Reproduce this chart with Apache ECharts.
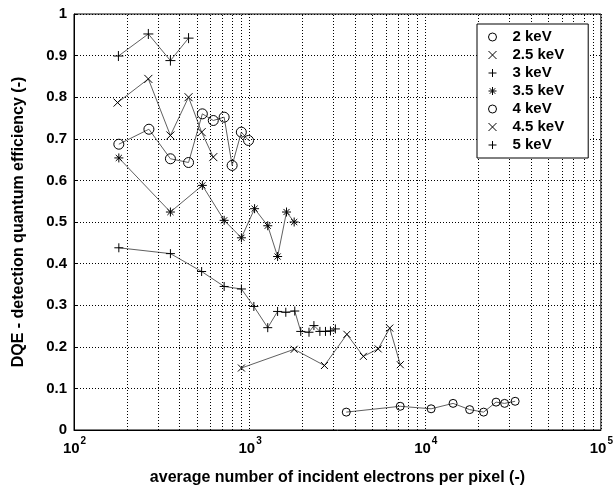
<!DOCTYPE html>
<html>
<head>
<meta charset="utf-8">
<script src="https://cdn.jsdelivr.net/npm/echarts@6/dist/echarts.min.js"></script>
<style>html,body{margin:0;padding:0;background:#fff}#c{width:616px;height:491px}</style>
</head>
<body>
<div id="c"></div>
<script>
// ---- data ----
const seriesNames = ['2 keV', '2.5 keV', '3 keV', '3.5 keV', '4 keV', '4.5 keV', '5 keV'];

const e2_x  = [3550, 7200, 10800, 14400, 17900, 21500, 25300, 28300, 32500];
const e2_y  = [0.043, 0.057, 0.051, 0.064, 0.049, 0.043, 0.067, 0.064, 0.069];

const e25_x = [898, 1793, 2667, 3580, 4443, 5395, 6281, 7210];
const e25_y = [0.149, 0.194, 0.155, 0.230, 0.177, 0.195, 0.245, 0.157];

const e3_x  = [180, 354, 533, 716, 898, 1057, 1268, 1443, 1607, 1807, 1955, 2178, 2323, 2512, 2703, 2885, 3078];
const e3_y  = [0.438, 0.424, 0.381, 0.345, 0.339, 0.297, 0.246, 0.285, 0.283, 0.286, 0.237, 0.235, 0.251, 0.237, 0.237, 0.238, 0.243];

const e35_x = [180, 354, 538, 716, 898, 1067, 1268, 1443, 1622, 1793];
const e35_y = [0.654, 0.524, 0.588, 0.504, 0.462, 0.532, 0.491, 0.417, 0.524, 0.500];

const e4_x  = [180, 267, 354, 449, 538, 621, 716, 795, 897, 986];
const e4_y  = [0.687, 0.723, 0.652, 0.643, 0.760, 0.744, 0.752, 0.636, 0.716, 0.696];

const e45_x = [177, 265, 354, 449, 533, 621];
const e45_y = [0.787, 0.844, 0.708, 0.800, 0.716, 0.656];

const e5_x  = [179, 265, 354, 449];
const e5_y  = [0.899, 0.952, 0.888, 0.942];

const xTicks = [100, 1000, 10000, 100000];
const minorGrid = [200,300,400,500,600,700,800,900,2000,3000,4000,5000,6000,7000,8000,9000,20000,30000,40000,50000,60000,70000,80000,90000];

// ---- styling ----
const FONT = "'Liberation Sans', Arial, sans-serif";
const SYM = {
  o: 'circle',
  x: 'path://M0,0L10,10M0,10L10,0',
  p: 'path://M5,0L5,10M0,5L10,5',
  s: 'path://M5,0L5,10M0,5L10,5M1.6,1.6L8.4,8.4M1.6,8.4L8.4,1.6'
};
const defs = [
  {x: e2_x,  y: e2_y,  sym: SYM.o, size: 8},
  {x: e25_x, y: e25_y, sym: SYM.x, size: 7},
  {x: e3_x,  y: e3_y,  sym: SYM.p, size: 9},
  {x: e35_x, y: e35_y, sym: SYM.s, size: 9},
  {x: e4_x,  y: e4_y,  sym: SYM.o, size: 10},
  {x: e45_x, y: e45_y, sym: SYM.x, size: 8},
  {x: e5_x,  y: e5_y,  sym: SYM.p, size: 10}
];

const series = defs.map((d, i) => ({
  name: seriesNames[i],
  type: 'line',
  data: d.x.map((v, k) => [v, d.y[k]]),
  symbol: d.sym,
  symbolSize: d.size,
  symbolKeepAspect: true,
  showSymbol: true,
  lineStyle: {color: '#606060', width: 1},
  itemStyle: {color: 'transparent', borderColor: '#000', borderWidth: 1},
  emphasis: {disabled: true},
  z: 3
}));

series.push({
  name: 'grid-minor',
  type: 'line',
  data: [],
  silent: true,
  z: 1,
  markLine: {
    silent: true,
    symbol: 'none',
    label: {show: false},
    lineStyle: {color: '#000', type: [1, 2], width: 1},
    emphasis: {disabled: true},
    data: minorGrid.map(v => ({xAxis: v}))
  }
});

const chart = echarts.init(document.getElementById('c'), null, {renderer: 'canvas'});
chart.setOption({
  animation: false,
  backgroundColor: '#fff',
  textStyle: {fontFamily: FONT},
  grid: {left: 74, right: 9, top: 14, bottom: 59, show: true, borderColor: '#000', borderWidth: 1, backgroundColor: 'transparent'},
  legend: {
    show: true,
    data: seriesNames.map((n, i) => ({name: n, icon: defs[i].sym})),
    orient: 'vertical',
    left: 477,
    top: 24,
    padding: [4, 24, 4, 11],
    itemGap: 0,
    itemWidth: 30,
    itemHeight: 8,
    symbolKeepAspect: true,
    selectedMode: false,
    backgroundColor: '#fff',
    borderColor: '#000',
    borderWidth: 1,
    borderRadius: 0,
    itemStyle: {color: 'transparent', borderColor: '#000', borderWidth: 1},
    textStyle: {fontFamily: FONT, fontWeight: 'bold', fontSize: 15, color: '#000', lineHeight: 18, padding: [0, 0, 0, 0]},
    z: 10
  },
  xAxis: {
    type: 'log',
    logBase: 10,
    min: 100,
    max: 100000,
    name: 'average number of incident electrons per pixel (-)',
    nameLocation: 'middle',
    nameGap: 40,
    nameTextStyle: {fontFamily: FONT, fontWeight: 'bold', fontSize: 16, color: '#000'},
    axisLine: {show: true, lineStyle: {color: '#000', width: 1}},
    axisTick: {show: false},
    splitLine: {show: true, lineStyle: {color: '#000', type: [1, 2], width: 1}},
    axisLabel: {
      margin: 6,
      formatter: v => '{b|10}{s|' + Math.round(Math.log10(v)) + '}',
      rich: {
        b: {fontFamily: FONT, fontWeight: 'bold', fontSize: 15, color: '#000', verticalAlign: 'bottom', padding: [0, 0, 0, 1]},
        s: {fontFamily: FONT, fontWeight: 'bold', fontSize: 10, color: '#000', verticalAlign: 'bottom', padding: [0, 0, 10, 1]}
      }
    }
  },
  yAxis: {
    type: 'value',
    min: 0,
    max: 1,
    interval: 0.1,
    name: 'DQE - detection quantum efficiency (-)',
    nameLocation: 'middle',
    nameGap: 47,
    nameTextStyle: {fontFamily: FONT, fontWeight: 'bold', fontSize: 16, color: '#000'},
    axisLine: {show: true, lineStyle: {color: '#000', width: 1}},
    axisTick: {show: true, inside: true, length: 4, lineStyle: {color: '#000'}},
    splitLine: {show: true, lineStyle: {color: '#000', type: [1, 2], width: 1}},
    axisLabel: {margin: 7, fontFamily: FONT, fontWeight: 'bold', fontSize: 15, color: '#000'}
  },
  series: series
});
</script>
</body>
</html>
